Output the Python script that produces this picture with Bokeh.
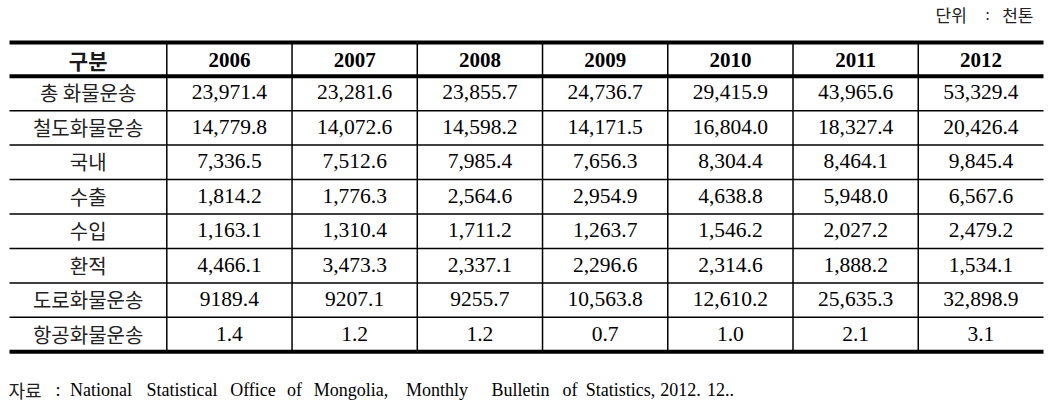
from bokeh.plotting import figure
from bokeh.models import Range1d
from bokeh.core.properties import value
from bokeh.embed import file_html
from bokeh.resources import INLINE

# ---------------- data ----------------
header_label = "구분"
years = ["2006", "2007", "2008", "2009", "2010", "2011", "2012"]
categories = ["총 화물운송", "철도화물운송", "국내", "수출", "수입", "환적", "도로화물운송", "항공화물운송"]

total_freight = [23971.4, 23281.6, 23855.7, 24736.7, 29415.9, 43965.6, 53329.4]
rail_freight = [14779.8, 14072.6, 14598.2, 14171.5, 16804.0, 18327.4, 20426.4]
domestic = [7336.5, 7512.6, 7985.4, 7656.3, 8304.4, 8464.1, 9845.4]
exports = [1814.2, 1776.3, 2564.6, 2954.9, 4638.8, 5948.0, 6567.6]
imports = [1163.1, 1310.4, 1711.2, 1263.7, 1546.2, 2027.2, 2479.2]
transit = [4466.1, 3473.3, 2337.1, 2296.6, 2314.6, 1888.2, 1534.1]
road_freight = [9189.4, 9207.1, 9255.7, 10563.8, 12610.2, 25635.3, 32898.9]
air_freight = [1.4, 1.2, 1.2, 0.7, 1.0, 2.1, 3.1]
# cells printed without a thousands separator in the source
plain_cells = [(6, 0), (6, 1), (6, 2)]

unit_words = ["단위", ":", "천톤"]
source_prefix = "자료"
source_words = ["National", "Statistical", "Office", "of", "Mongolia,", "Monthly",
                "Bulletin", "of", "Statistics,", "2012.", "12.."]

rows = [total_freight, rail_freight, domestic, exports, imports, transit, road_freight, air_freight]

# ---------------- layout (data units == page pixels) ----------------
W, H = 1050, 410
X0, X1 = 9, 1043
COL0 = 166.3
COLW = (X1 - COL0) / len(years)
Y_TOP = 42.0
Y_HEAD = 75.7
Y_BOT = 351.3
ROWH = (Y_BOT - Y_HEAD) / len(categories)
# justified word centres of the source line
src_word_cx = [100.5, 181.5, 252.5, 294, 350.5, 436.5, 520, 569.5, 620, 680, 720]

p = figure(width=W, height=H, x_range=Range1d(0, W), y_range=Range1d(H, 0),
           output_backend="svg", toolbar_location=None, min_border=0)
p.axis.visible = False
p.grid.visible = False
p.outline_line_color = None
p.background_fill_color = "white"
p.border_fill_color = "white"

# thick horizontal rules
p.segment(x0=[X0] * 3, x1=[X1] * 3, y0=[Y_TOP, Y_HEAD, Y_BOT], y1=[Y_TOP, Y_HEAD, Y_BOT],
          line_color="black", line_width=4)
# thin horizontal rules
ys = [Y_HEAD + ROWH * i for i in range(1, len(categories))]
p.segment(x0=[X0] * len(ys), x1=[X1] * len(ys), y0=ys, y1=ys, line_color="black", line_width=1.5)
# vertical rules
xs = [COL0 + COLW * i for i in range(len(years))]
p.segment(x0=xs, x1=xs, y0=[Y_TOP] * len(xs), y1=[Y_BOT] * len(xs), line_color="black", line_width=1.5)

serif = value("Liberation Serif")
cjk = value("Noto Sans CJK KR")

# header
first_cx = (X0 + COL0) / 2
head_cy = (Y_TOP + Y_HEAD) / 2
p.text(x=[first_cx], y=[head_cy + 0.5], text=[header_label], text_font=cjk, text_font_size="21px",
       text_font_style="bold", text_align="center", text_baseline="middle", text_color="#1a1a1a")
yx = [COL0 + COLW * (i + 0.5) for i in range(len(years))]
p.text(x=yx, y=[head_cy + 1] * len(years), text=years, text_font=serif, text_font_size="21px",
       text_font_style="bold", text_align="center", text_baseline="middle", text_color="black")

# row labels
row_cy = [Y_HEAD + ROWH * (i + 0.5) for i in range(len(categories))]
p.text(x=[first_cx] * len(categories), y=[c - 0.5 for c in row_cy], text=categories, text_font=cjk,
       text_font_size="20px", text_align="center", text_baseline="middle", text_color="#222222")

# values
vx, vy, vt = [], [], []
for r, vals in enumerate(rows):
    for c, v in enumerate(vals):
        vx.append(yx[c])
        vy.append(row_cy[r] - 1)
        vt.append(f"{v:.1f}" if (r, c) in plain_cells else f"{v:,.1f}")
p.text(x=vx, y=vy, text=vt, text_font=serif, text_font_size="21.5px", text_align="center",
       text_baseline="middle", text_color="black")

# unit note
p.text(x=[935], y=[14], text=[unit_words[0]], text_font=cjk, text_font_size="17px",
       text_align="left", text_baseline="middle", text_color="#222222")
p.text(x=[987], y=[14], text=[unit_words[1]], text_font=serif, text_font_size="17px",
       text_align="center", text_baseline="middle", text_color="#222222")
p.text(x=[1033], y=[14], text=[unit_words[2]], text_font=cjk, text_font_size="17px",
       text_align="right", text_baseline="middle", text_color="#222222")

# source note
p.text(x=[8], y=[389], text=[source_prefix], text_font=cjk, text_font_size="18px",
       text_align="left", text_baseline="alphabetic", text_color="#222222")
p.text(x=[55], y=[389], text=[":"], text_font=serif, text_font_size="18px",
       text_align="left", text_baseline="alphabetic", text_color="black")
p.text(x=src_word_cx, y=[389] * len(source_words), text=source_words, text_font=serif,
       text_font_size="18px", text_align="center", text_baseline="alphabetic", text_color="black")

open("out.html", "w").write(file_html(p, INLINE))
